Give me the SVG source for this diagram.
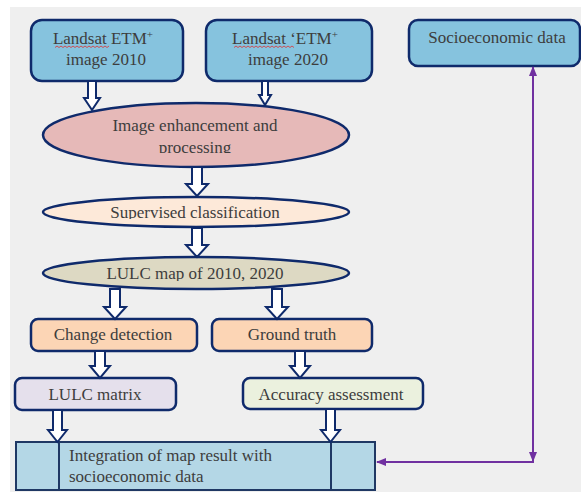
<svg xmlns="http://www.w3.org/2000/svg" width="581" height="492" viewBox="0 0 581 492">
<style>
.t{font-family:"Liberation Serif","Times New Roman",serif;font-size:17px;fill:#3d3d3d;text-anchor:middle}
.tl{text-anchor:start}
.box{stroke:#0f2a6b;stroke-width:2.5}
.blk{fill:#fff;stroke:#0f2a6b;stroke-width:2;stroke-linejoin:miter}
.pl{stroke:#7030a0;stroke-width:2;fill:none}
.sp{stroke:#e03030;stroke-width:0.8;fill:none}
</style>
<defs>
<marker id="ah" viewBox="0 0 10 10" refX="9" refY="5" markerWidth="5" markerHeight="5" orient="auto-start-reverse">
<path d="M0,1 L10,5 L0,9 Z" fill="#7030a0"/>
</marker>
<clipPath id="c1"><rect x="40" y="100" width="320" height="53"/></clipPath>
<clipPath id="c2"><rect x="40" y="195" width="320" height="24"/></clipPath>
<clipPath id="c3"><rect x="40" y="255" width="320" height="26"/></clipPath>
</defs>
<rect x="0" y="0" width="581" height="492" fill="#ffffff"/>
<rect x="10" y="7" width="571" height="485" fill="#efefef"/>

<g id="n-landsat2010">
<rect class="box" x="31" y="20" width="152" height="61" rx="11" fill="#86c3de"/>
<text class="t" x="103" y="44">Landsat ETM<tspan font-size="11" dy="-6">+</tspan></text>
<text class="t" x="106" y="65">image 2010</text>
<path class="sp" d="M55,47.5 l2,-1.5 l2,1.5 l2,-1.5 l2,1.5 l2,-1.5 l2,1.5 l2,-1.5 l2,1.5 l2,-1.5 l2,1.5 l2,-1.5 l2,1.5 l2,-1.5 l2,1.5 l2,-1.5 l2,1.5 l2,-1.5 l2,1.5 l2,-1.5 l2,1.5 l2,-1.5 l2,1.5 l2,-1.5 l2,1.5 l2,-1.5 l2,1.5 l2,-1.5"/>
</g>

<g id="n-landsat2020">
<rect class="box" x="206" y="20" width="166" height="61" rx="11" fill="#86c3de"/>
<text class="t" x="285" y="44">Landsat ‘ETM<tspan font-size="11" dy="-6">+</tspan></text>
<text class="t" x="288" y="65">image 2020</text>
<path class="sp" d="M234,47.5 l2,-1.5 l2,1.5 l2,-1.5 l2,1.5 l2,-1.5 l2,1.5 l2,-1.5 l2,1.5 l2,-1.5 l2,1.5 l2,-1.5 l2,1.5 l2,-1.5 l2,1.5 l2,-1.5 l2,1.5 l2,-1.5 l2,1.5 l2,-1.5 l2,1.5 l2,-1.5 l2,1.5 l2,-1.5 l2,1.5 l2,-1.5 l2,1.5 l2,-1.5 l2,1.5 l2,-1.5 l2,1.5"/>
</g>

<g id="n-socio">
<rect class="box" x="409" y="20" width="171" height="46" rx="9" fill="#86c3de"/>
<text class="t" x="497" y="43">Socioeconomic data</text>
</g>

<g id="n-enhance">
<ellipse class="box" cx="196" cy="135" rx="153" ry="32" fill="#e6b9b8"/>
<g clip-path="url(#c1)">
<text class="t" x="195" y="131">Image enhancement and</text>
<text class="t" x="195" y="153">processing</text>
</g>
</g>

<g id="n-supervised">
<ellipse class="box" cx="196" cy="212" rx="153" ry="15" fill="#fde9d9"/>
<g clip-path="url(#c2)">
<text class="t" x="195" y="218">Supervised classification</text>
</g>
</g>

<g id="n-lulcmap">
<ellipse class="box" cx="196" cy="273" rx="153" ry="16" fill="#ddd9c3"/>
<g clip-path="url(#c3)">
<text class="t" x="195" y="279">LULC map of 2010, 2020</text>
</g>
</g>

<g id="n-change">
<rect class="box" x="31" y="319" width="166" height="32" rx="7" fill="#fcd5b5"/>
<text class="t" x="113" y="340">Change detection</text>
</g>

<g id="n-ground">
<rect class="box" x="212" y="319" width="160" height="32" rx="7" fill="#fcd5b5"/>
<text class="t" x="292" y="340">Ground truth</text>
</g>

<g id="n-matrix">
<rect class="box" x="15" y="378" width="161" height="32" rx="7" fill="#e5e0ec"/>
<text class="t" x="95" y="400">LULC matrix</text>
</g>

<g id="n-accuracy">
<rect class="box" x="243" y="378" width="180" height="31" rx="7" fill="#ebf1de"/>
<text class="t" x="331" y="400">Accuracy assessment</text>
</g>

<g id="n-integration">
<rect x="16" y="442" width="359" height="48" fill="#b4d7e6" stroke="#1f3864" stroke-width="2"/>
<line x1="59" y1="442" x2="59" y2="490" stroke="#1f3864" stroke-width="2"/>
<line x1="331" y1="442" x2="331" y2="490" stroke="#1f3864" stroke-width="2"/>
<text class="t tl" x="69" y="461">Integration of map result  with</text>
<text class="t tl" x="69" y="482">socioeconomic  data</text>
</g>

<g id="connectors">
<path class="blk" d="M88,81 L96,81 L96,98 L100,98 L92,110 L84,98 L88,98 Z"/>
<path class="blk" d="M262,81 L268,81 L268,95 L271,95 L265,105 L259,95 L262,95 Z"/>
<path class="blk" d="M192,167 L202,167 L202,184 L208,184 L197,196 L186,184 L192,184 Z"/>
<path class="blk" d="M192,228 L202,228 L202,245 L208,245 L197,257 L186,245 L192,245 Z"/>
<path class="blk" d="M110,289 L120,289 L120,307 L126,307 L115,319 L104,307 L110,307 Z"/>
<path class="blk" d="M272,289 L282,289 L282,307 L288,307 L277,319 L266,307 L272,307 Z"/>
<path class="blk" d="M95,351 L105,351 L105,366 L110,366 L100,378 L90,366 L95,366 Z"/>
<path class="blk" d="M295,351 L305,351 L305,366 L310,366 L300,378 L290,366 L295,366 Z"/>
<path class="blk" d="M53,410 L62,410 L62,430 L67,430 L57.5,442 L48,430 L53,430 Z"/>
<path class="blk" d="M326,409 L335,409 L335,430 L340,430 L330.5,442 L321,430 L326,430 Z"/>
<line class="pl" x1="533" y1="462" x2="533" y2="67" marker-end="url(#ah)"/>
<line class="pl" x1="533" y1="440" x2="533" y2="461" marker-end="url(#ah)"/>
<line class="pl" x1="534" y1="462" x2="377" y2="462" marker-end="url(#ah)"/>
</g>
</svg>
